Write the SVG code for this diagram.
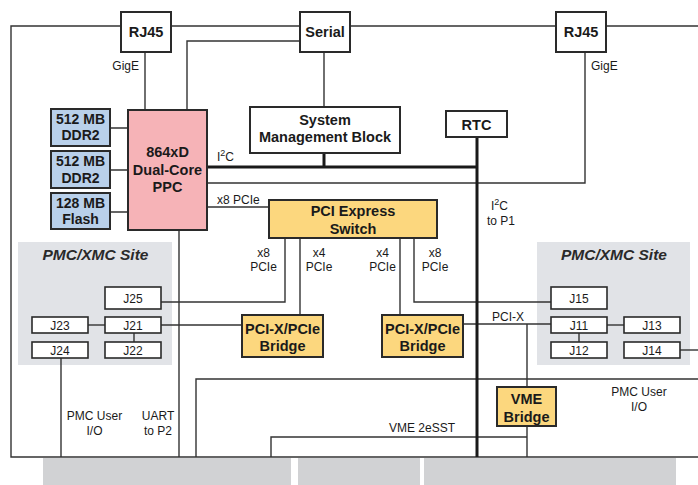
<svg xmlns="http://www.w3.org/2000/svg" width="698" height="485" viewBox="0 0 698 485">
<style>
text{font-family:"Liberation Sans",Arial,sans-serif;fill:#1a1a1a}
.b{font-weight:bold;font-size:14.5px;text-anchor:middle}
.m{font-weight:bold;font-size:14px;text-anchor:middle}
.s{font-size:12px}
.c{text-anchor:middle}
.j{font-size:12px;text-anchor:middle}
.site{font-weight:bold;font-style:italic;font-size:15.5px;text-anchor:middle;fill:#2a2a2a}
.box{fill:#fff;stroke:#2a2a2a;stroke-width:2}
.jb{fill:#fff;stroke:#2a2a2a;stroke-width:1.6}
.ppc{fill:#F6B3B7;stroke:#2a2a2a;stroke-width:2}
.mem{fill:#B9D0EA;stroke:#2a2a2a;stroke-width:2}
.yel{fill:#FCD77E;stroke:#2a2a2a;stroke-width:2}
.ln{fill:none;stroke:#333;stroke-width:1.4}
.tk{fill:none;stroke:#1a1a1a;stroke-width:3}
</style>
<rect width="698" height="485" fill="#fff"/>
<g id="sites">
<rect id="site-left" x="18" y="242" width="154" height="123" fill="#E1E3E7"/>
<rect id="site-right" x="537" y="242" width="153" height="123" fill="#E1E3E7"/>
<text class="site" x="95.5" y="260">PMC/XMC Site</text>
<text class="site" x="614" y="260">PMC/XMC Site</text>
</g>
<g id="backplane">
<rect x="43" y="458" width="248" height="27" fill="#D1D2D4"/>
<rect x="298" y="458" width="122" height="27" fill="#D1D2D4"/>
<rect x="424" y="458" width="252" height="27" fill="#D1D2D4"/>
</g>
<g id="connectors">
<path class="ln" d="M121 26H11V457H698"/>
<path class="ln" d="M171 26H300M350 26H556M606 26H698"/>
<path class="ln" d="M145 52V110"/>
<path class="ln" d="M300 41H187V110"/>
<path class="ln" d="M324 52V107"/>
<path class="ln" d="M585 52V183H207"/>
<path class="ln" d="M110 128H128M110 170H128M110 212H128"/>
<path class="ln" d="M207 207H269"/>
<path class="ln" d="M179 230V457"/>
<path class="ln" d="M285 238V302H161"/>
<path class="ln" d="M300 238V315"/>
<path class="ln" d="M400 238V315"/>
<path class="ln" d="M414 238V302H551"/>
<path class="ln" d="M161 325H242"/>
<path class="ln" d="M463 324H551"/>
<path class="ln" d="M527 324V387"/>
<path class="ln" d="M527 426V457"/>
<path class="ln" d="M88 325H105"/>
<path class="ln" d="M134 333V342"/>
<path class="ln" d="M61 358V457"/>
<path class="ln" d="M607 325H624"/>
<path class="ln" d="M579 333V342"/>
<path class="ln" d="M680 350H698"/>
<path class="ln" d="M196 457V379H698"/>
<path class="ln" d="M271 457V437H527"/>
<path class="tk" d="M207 167H477"/>
<path class="tk" d="M324 153V167"/>
<path class="tk" d="M477 137V457"/>
</g>
<g id="labels">
<text class="s" x="139" y="70" text-anchor="end">GigE</text>
<text class="s" x="591" y="70">GigE</text>
<text class="s" x="217" y="161">I<tspan font-size="9" dy="-5">2</tspan><tspan dy="5">C</tspan></text>
<text class="s" x="491" y="209.5">I<tspan font-size="9" dy="-5">2</tspan><tspan dy="5">C</tspan></text>
<text class="s" x="487" y="224.5">to P1</text>
<text class="s" x="217" y="203.5">x8 PCIe</text>
<text class="s c" x="263.5" y="257">x8</text><text class="s c" x="263.5" y="271">PCIe</text>
<text class="s c" x="319" y="257">x4</text><text class="s c" x="319" y="271">PCIe</text>
<text class="s c" x="382.5" y="257">x4</text><text class="s c" x="382.5" y="271">PCIe</text>
<text class="s c" x="435" y="257">x8</text><text class="s c" x="435" y="271">PCIe</text>
<text class="s c" x="508" y="321">PCI-X</text>
<text class="s c" x="94.5" y="420">PMC User</text><text class="s c" x="94.5" y="434.5">I/O</text>
<text class="s c" x="158" y="420">UART</text><text class="s c" x="158" y="434.5">to P2</text>
<text class="s c" x="639" y="396">PMC User</text><text class="s c" x="639" y="411">I/O</text>
<text class="s c" x="422" y="432">VME 2eSST</text>
</g>
<g id="rj45-left"><rect class="box" x="121" y="12" width="50" height="40"/><text class="b" x="146" y="37">RJ45</text></g>
<g id="serial"><rect class="box" x="300" y="12" width="50" height="40"/><text class="b" x="325" y="37">Serial</text></g>
<g id="rj45-right"><rect class="box" x="556" y="12" width="50" height="40"/><text class="b" x="581" y="37">RJ45</text></g>
<g id="ppc"><rect class="ppc" x="128" y="110" width="79" height="120"/><text class="b" x="167.5" y="157">864xD</text><text class="b" x="167.5" y="174.5">Dual-Core</text><text class="b" x="167.5" y="192">PPC</text></g>
<g id="ddr2-a"><rect class="mem" x="51" y="109" width="59" height="37"/><text class="m" x="80.5" y="124">512 MB</text><text class="m" x="80.5" y="140">DDR2</text></g>
<g id="ddr2-b"><rect class="mem" x="51" y="151" width="59" height="37"/><text class="m" x="80.5" y="166">512 MB</text><text class="m" x="80.5" y="182.5">DDR2</text></g>
<g id="flash"><rect class="mem" x="51" y="193" width="59" height="36"/><text class="m" x="80.5" y="207.5">128 MB</text><text class="m" x="80.5" y="224">Flash</text></g>
<g id="smb"><rect class="box" x="250" y="107" width="150" height="46"/><text class="b" x="325" y="124.5">System</text><text class="b" x="325" y="142">Management Block</text></g>
<g id="rtc"><rect class="box" x="446" y="111" width="61" height="26"/><text class="b" x="476.5" y="129.5">RTC</text></g>
<g id="pcie-switch"><rect class="yel" x="269" y="200" width="168" height="38"/><text class="b" x="353" y="216">PCI Express</text><text class="b" x="353" y="233.5">Switch</text></g>
<g id="bridge-1"><rect class="yel" x="242" y="315" width="81" height="42"/><text class="b" x="282.5" y="333.5">PCI-X/PCIe</text><text class="b" x="282.5" y="351">Bridge</text></g>
<g id="bridge-2"><rect class="yel" x="382" y="315" width="81" height="42"/><text class="b" x="422.5" y="333.5">PCI-X/PCIe</text><text class="b" x="422.5" y="351">Bridge</text></g>
<g id="vme-bridge"><rect class="yel" x="497" y="387" width="59" height="39"/><text class="b" x="526.5" y="404">VME</text><text class="b" x="526.5" y="421.5">Bridge</text></g>
<g id="j25"><rect class="jb" x="105" y="287" width="56" height="22"/><text class="j" x="133" y="302.5">J25</text></g>
<g id="j23"><rect class="jb" x="32" y="317" width="56" height="16"/><text class="j" x="60" y="329.5">J23</text></g>
<g id="j21"><rect class="jb" x="105" y="317" width="56" height="16"/><text class="j" x="133" y="329.5">J21</text></g>
<g id="j24"><rect class="jb" x="32" y="342" width="56" height="16"/><text class="j" x="60" y="354.5">J24</text></g>
<g id="j22"><rect class="jb" x="105" y="342" width="56" height="16"/><text class="j" x="133" y="354.5">J22</text></g>
<g id="j15"><rect class="jb" x="551" y="287" width="56" height="22"/><text class="j" x="579" y="302.5">J15</text></g>
<g id="j11"><rect class="jb" x="551" y="317" width="56" height="16"/><text class="j" x="579" y="329.5">J11</text></g>
<g id="j13"><rect class="jb" x="624" y="317" width="56" height="16"/><text class="j" x="652" y="329.5">J13</text></g>
<g id="j12"><rect class="jb" x="551" y="342" width="56" height="16"/><text class="j" x="579" y="354.5">J12</text></g>
<g id="j14"><rect class="jb" x="624" y="342" width="56" height="16"/><text class="j" x="652" y="354.5">J14</text></g>
</svg>
